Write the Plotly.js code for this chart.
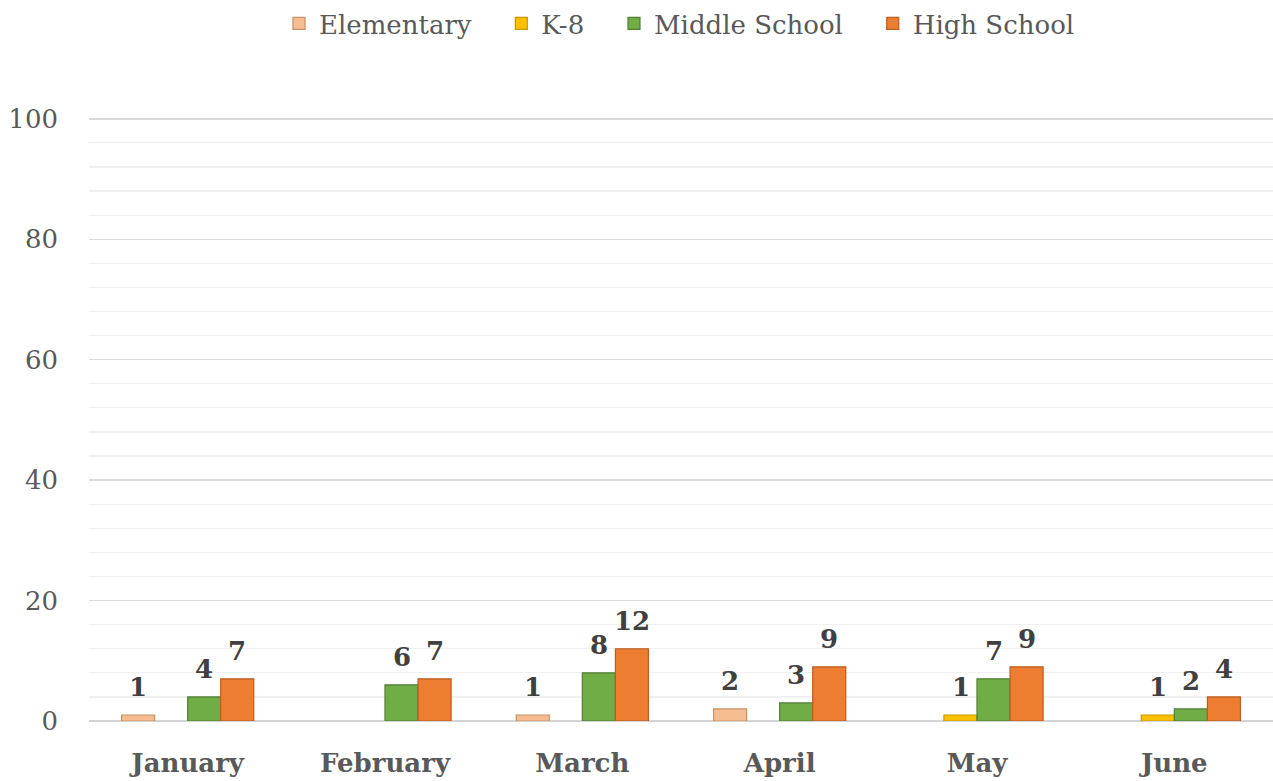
<!DOCTYPE html>
<html>
<head>
<meta charset="utf-8">
<script src="https://cdn.plot.ly/plotly-3.0.1.min.js"></script>
<style>html,body{margin:0;padding:0;background:#fff;}#chart{width:1273px;height:781px;}</style>
</head>
<body>
<div id="chart"></div>
<script>
const months = ["January", "February", "March", "April", "May", "June"];
const seriesNames = ["Elementary", "K-8", "Middle School", "High School"];
const elementary = [1, null, 1, 2, null, null];
const k8 = [null, null, null, null, 1, 1];
const middleSchool = [4, 6, 8, 3, 7, 2];
const highSchool = [7, 7, 12, 9, 9, 4];
const yTicks = [0, 20, 40, 60, 80, 100];

const seriesValues = [elementary, k8, middleSchool, highSchool];
const fillColors = ["#f6bc92", "#ffc000", "#70ad47", "#ed7d31"];
const lineColors = ["#c98f62", "#c99700", "#4f7f33", "#b95d22"];

const FONT = "DejaVu Serif, Liberation Serif, serif";
const PAD = "\u00a0\u00a0\u00a0";
const traces = seriesValues.map((vals, i) => ({
  type: "bar",
  name: seriesNames[i] + PAD,
  x: months,
  y: vals,
  marker: {color: fillColors[i], line: {color: lineColors[i], width: 1.2}},
  hoverinfo: "skip"
}));

const barPx = 33;
const annotations = [];
seriesValues.forEach((vals, i) => {
  vals.forEach((v, j) => {
    if (v) {
      annotations.push({
        x: months[j], y: v, xref: "x", yref: "y",
        text: String(v), showarrow: false,
        xanchor: "center", yanchor: "bottom",
        xshift: (i - 1.5) * barPx, yshift: 11,
        font: {family: FONT, size: 26, color: "#404040", weight: "bold"}
      });
    }
  });
});

const layout = {
  width: 1273, height: 781,
  margin: {l: 89, r: 0, t: 117, b: 60, pad: 0},
  paper_bgcolor: "#ffffff", plot_bgcolor: "#ffffff",
  barmode: "group", bargap: 0.33, bargroupgap: 0,
  showlegend: true,
  legend: {
    orientation: "h", x: 279 / 1273, xref: "container", xanchor: "left",
    y: 1, yref: "container", yanchor: "top",
    font: {family: FONT, size: 26, color: "#595959"},
    itemclick: false, tracegroupgap: 0
  },
  xaxis: {
    type: "category",
    tickfont: {family: FONT, size: 26, color: "#595959", weight: "bold"},
    showgrid: false, showline: false, ticks: "",
    ticklabelstandoff: 24, fixedrange: true
  },
  yaxis: {
    range: [0, 100.3], tickvals: yTicks, ticktext: yTicks.map(String),
    tickfont: {family: FONT, size: 26, color: "#595959"},
    showgrid: true, gridcolor: "#d9d9d9", gridwidth: 1.5,
    minor: {dtick: 4, showgrid: true, gridcolor: "#f0f0f0", gridwidth: 1.2, ticks: ""},
    zeroline: true, zerolinecolor: "#d4d4d4", zerolinewidth: 2,
    showline: false, ticks: "", ticklabelstandoff: 30, fixedrange: true
  },
  annotations: annotations
};

Plotly.newPlot("chart", traces, layout, {displayModeBar: false, staticPlot: true});
</script>
</body>
</html>
